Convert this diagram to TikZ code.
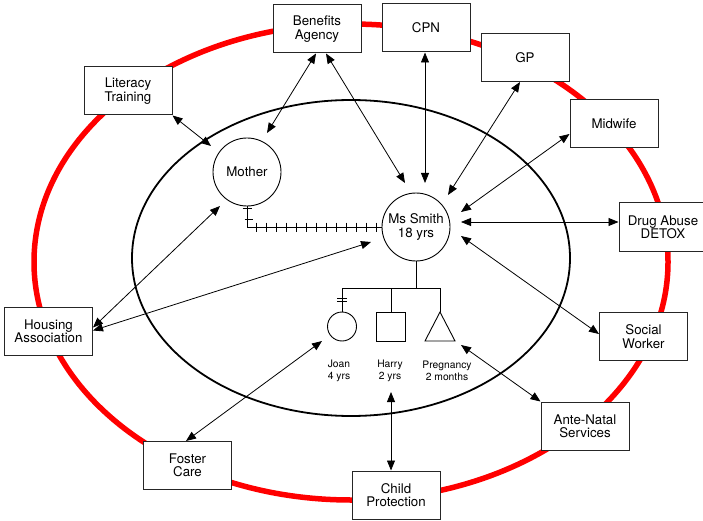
\documentclass[tikz,border=0pt]{standalone}
\usepackage{fontspec}
\setmainfont{TeX Gyre Heros}
\usetikzlibrary{arrows.meta,calc}
\begin{document}
\begin{tikzpicture}[x=1pt,y=-1pt,
  box/.style={draw=black!85, line width=1pt, fill=white, minimum width=88pt, minimum height=48pt, inner sep=0pt, align=center, font=\fontsize{13.3}{13.3}\selectfont},
  person/.style={draw, circle, line width=0.9pt, fill=white, minimum size=68pt, inner sep=0pt, align=center, font=\fontsize{13.3}{13.3}\selectfont},
  link/.style={line width=0.8pt, {Triangle[length=10pt,width=8pt]}-{Triangle[length=10pt,width=8pt]}},
  kid/.style={draw, line width=0.9pt, fill=white, minimum size=29pt, inner sep=0pt},
  small/.style={align=center, font=\fontsize{10.3}{12}\selectfont},
  famline/.style={line width=0.9pt}
]
\clip (0,0) rectangle (703,521);
\fill[white] (0,0) rectangle (703,521);
% ecomap rings
\draw[red, line width=5.5pt] (351,262) ellipse [x radius=317, y radius=238];
\draw[line width=1.8pt] (351,258) ellipse [x radius=219, y radius=158];

% outer agencies
\node[box] (benefits) at (317,29) {Benefits\\Agency};
\node[box] (cpn) at (426,28) {CPN};
\node[box] (gp) at (525,57.5) {GP};
\node[box] (midwife) at (614,123.5) {Midwife};
\node[box] (literacy) at (128,91) {Literacy\\Training};
\node[box] (drug) at (663,227) {Drug Abuse\\DETOX};
\node[box] (social) at (643.5,336.5) {Social\\Worker};
\node[box] (housing) at (48.5,331.5) {Housing\\Association};
\node[box] (foster) at (187.5,465.5) {Foster\\Care};
\node[box] (child) at (396,495) {Child\\Protection};
\node[box] (antenatal) at (585,426) {Ante-Natal\\Services};

% family
\node[person] (mother) at (247,172) {Mother};
\node[person] (smith) at (416,227) {Ms Smith\\18 yrs};

\node[kid, circle] (joan) at (342,326.5) {};
\node[kid, rectangle] (harry) at (391,326.5) {};
\coordinate (preg) at (440,312);
\draw[famline, fill=white] (preg) -- ++(15,29) -- ++(-30,0) -- cycle;

\node[small] (joanlab) at (339,371) {Joan\\4 yrs};
\node[small] (harrylab) at (390,371) {Harry\\2 yrs};
\node[small] (preglab) at (447,371) {Pregnancy\\2 months};

% mother -- Ms Smith (hatched line)
\draw[famline] (mother.south) |- (smith.west);
\draw[famline] ($(mother.south)+(-4.5,2.5)$) -- ++(9,0);
\draw[famline] ($(mother.south)+(-2.5,13)$) -- ++(8,0);
\foreach \i in {0,...,12}
  \draw[famline] (256.7+10*\i,222.7) -- ++(0,9);

% children lines
\draw[famline] (smith.south) -- ++(0,27) coordinate (fam);
\draw[famline] (joan.north |- fam) -- (preg |- fam);
\draw[famline] (joan.north |- fam) -- (joan.north);
\draw[famline] (harry.north |- fam) -- (harry.north);
\draw[famline] (preg |- fam) -- (preg);
\draw[famline] ($(joan.north)+(-5,-13)$) -- ++(10,0);
\draw[famline] ($(joan.north)+(-5,-10)$) -- ++(10,0);

% free ends near the family members
\coordinate (mL) at (211,146);
\coordinate (mB) at (267,133);
\coordinate (sB) at (405,183);
\coordinate (sC) at (425,183);
\coordinate (sG) at (448,195);
\coordinate (sM) at (461,212);
\coordinate (sD) at (461,222);
\coordinate (sS) at (461,236);
\coordinate (pA) at (461,345);
\coordinate (hC) at (391,392);
\coordinate (jF) at (322,341);
\coordinate (mH) at (220,206);
\coordinate (sH) at (371,242);

% connectors
\draw[link] (literacy.south east) -- (mL);
\draw[link] ([xshift=-1pt]benefits.south) -- (mB);
\draw[link] ([xshift=9pt]benefits.south) -- (sB);
\draw[link] ([xshift=-1pt]cpn.south) -- (sC);
\draw[link] ([xshift=-5pt]gp.south) -- (sG);
\draw[link] ([yshift=-10.5pt]midwife.west) -- (sM);
\draw[link] ([yshift=5pt]drug.west) -- (sD);
\draw[link] ([yshift=2.5pt]social.west) -- (sS);
\draw[link] (antenatal.north west) -- (pA);
\draw[link] ([xshift=-5pt]child.north) -- (hC);
\draw[link] ([xshift=-1.5pt]foster.north) -- (jF);
\draw[link] ([yshift=4pt]housing.east) -- (mH);
\draw[link] ([yshift=1pt]housing.east) -- (sH);
\end{tikzpicture}
\end{document}
